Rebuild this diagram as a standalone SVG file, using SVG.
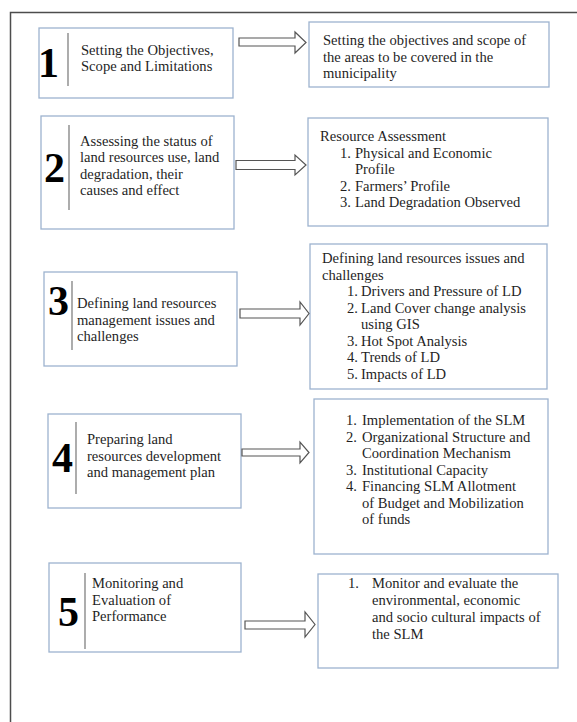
<svg xmlns="http://www.w3.org/2000/svg" width="577" height="722" viewBox="0 0 577 722">
<style>
.box{fill:#fff;stroke:#9db3cf;stroke-width:1.3}
.sep{stroke:#808080;stroke-width:1.3}
.num{font-family:"Liberation Serif","Times New Roman",serif;font-weight:bold;font-size:42px;fill:#000}
.t{font-family:"Liberation Serif","Times New Roman",serif;font-size:14.6px;fill:#1f1f1f}
.arrow{fill:#fff;stroke:#555;stroke-width:1.2}
.frame{fill:none;stroke:#4d4d4d;stroke-width:1.5}
</style>
<rect width="577" height="722" fill="#fff"/>
<path class="frame" d="M10.5 722 V12.5 H577"/>

<g id="step1">
<rect class="box" x="39" y="28" width="194" height="70"/>
<line class="sep" x1="68" y1="33" x2="68" y2="86"/>
<text class="num" x="38" y="77">1</text>
<text class="t" x="81" y="54.5">Setting the Objectives,</text>
<text class="t" x="81" y="71">Scope and Limitations</text>
</g>
<g id="detail1">
<rect class="box" x="309" y="22" width="240" height="65"/>
<text class="t" x="323" y="45">Setting the objectives and scope of</text>
<text class="t" x="323" y="61.5">the areas to be covered in the</text>
<text class="t" x="323" y="78">municipality</text>
</g>

<g id="step2">
<rect class="box" x="41" y="116" width="193" height="113"/>
<line class="sep" x1="69" y1="125" x2="69" y2="210"/>
<text class="num" x="44" y="182">2</text>
<text class="t" x="80" y="145.5">Assessing the status of</text>
<text class="t" x="80" y="162">land resources use, land</text>
<text class="t" x="80" y="178.5">degradation, their</text>
<text class="t" x="80" y="195">causes and effect</text>
</g>
<g id="detail2">
<rect class="box" x="308" y="118" width="240" height="108"/>
<text class="t" x="320" y="141">Resource Assessment</text>
<text class="t" x="340" y="157.5">1.</text>
<text class="t" x="355" y="157.5">Physical and Economic</text>
<text class="t" x="355" y="174">Profile</text>
<text class="t" x="340" y="190.5">2.</text>
<text class="t" x="355" y="190.5">Farmers’ Profile</text>
<text class="t" x="340" y="207">3.</text>
<text class="t" x="355" y="207">Land Degradation Observed</text>
</g>

<g id="step3">
<rect class="box" x="44" y="272" width="193" height="94"/>
<line class="sep" x1="72" y1="281" x2="72" y2="350"/>
<text class="num" x="48" y="315">3</text>
<text class="t" x="77" y="308">Defining land resources</text>
<text class="t" x="77" y="324.5">management issues and</text>
<text class="t" x="77" y="341">challenges</text>
</g>
<g id="detail3">
<rect class="box" x="310" y="244" width="237" height="145"/>
<text class="t" x="322" y="263">Defining land resources issues and</text>
<text class="t" x="322" y="279.5">challenges</text>
<text class="t" x="347" y="296">1.</text>
<text class="t" x="361" y="296">Drivers and Pressure of LD</text>
<text class="t" x="347" y="312.5">2.</text>
<text class="t" x="361" y="312.5">Land Cover change analysis</text>
<text class="t" x="361" y="329">using GIS</text>
<text class="t" x="347" y="345.5">3.</text>
<text class="t" x="361" y="345.5">Hot Spot Analysis</text>
<text class="t" x="347" y="362">4.</text>
<text class="t" x="361" y="362">Trends of LD</text>
<text class="t" x="347" y="378.5">5.</text>
<text class="t" x="361" y="378.5">Impacts of LD</text>
</g>

<g id="step4">
<rect class="box" x="48" y="414" width="193" height="94"/>
<line class="sep" x1="76" y1="422" x2="76" y2="494"/>
<text class="num" x="52" y="472">4</text>
<text class="t" x="87" y="444">Preparing land</text>
<text class="t" x="87" y="460.5">resources development</text>
<text class="t" x="87" y="477">and management plan</text>
</g>
<g id="detail4">
<rect class="box" x="314" y="399" width="234" height="155"/>
<text class="t" x="346" y="425">1.</text>
<text class="t" x="362" y="425">Implementation of the SLM</text>
<text class="t" x="346" y="441.5">2.</text>
<text class="t" x="362" y="441.5">Organizational Structure and</text>
<text class="t" x="362" y="458">Coordination Mechanism</text>
<text class="t" x="346" y="474.5">3.</text>
<text class="t" x="362" y="474.5">Institutional Capacity</text>
<text class="t" x="346" y="491">4.</text>
<text class="t" x="362" y="491">Financing SLM Allotment</text>
<text class="t" x="362" y="507.5">of Budget and Mobilization</text>
<text class="t" x="362" y="524">of funds</text>
</g>

<g id="step5">
<rect class="box" x="49" y="563" width="192" height="89"/>
<line class="sep" x1="85" y1="573" x2="85" y2="649"/>
<text class="num" x="58" y="626">5</text>
<text class="t" x="92" y="588">Monitoring and</text>
<text class="t" x="92" y="604.5">Evaluation of</text>
<text class="t" x="92" y="621">Performance</text>
</g>
<g id="detail5">
<rect class="box" x="318" y="574" width="240" height="94"/>
<text class="t" x="348" y="588">1.</text>
<text class="t" x="372" y="588">Monitor and evaluate the</text>
<text class="t" x="372" y="605">environmental, economic</text>
<text class="t" x="372" y="622">and socio cultural impacts of</text>
<text class="t" x="372" y="639">the SLM</text>
</g>

<g id="connectors">
<polygon class="arrow" points="239,38 295,38 295,32 306,42.5 295,53 295,46 239,46"/>
<polygon class="arrow" points="236,160.5 295,160.5 295,155 306,165 295,175 295,169.5 236,169.5"/>
<polygon class="arrow" points="240,309 300,309 300,302 309,313.5 300,325 300,318 240,318"/>
<polygon class="arrow" points="242,449 300,449 300,442 309,452.5 300,463 300,456 242,456"/>
<polygon class="arrow" points="245,621 305,621 305,612 315,624.5 305,637 305,629 245,629"/>
</g>
</svg>
